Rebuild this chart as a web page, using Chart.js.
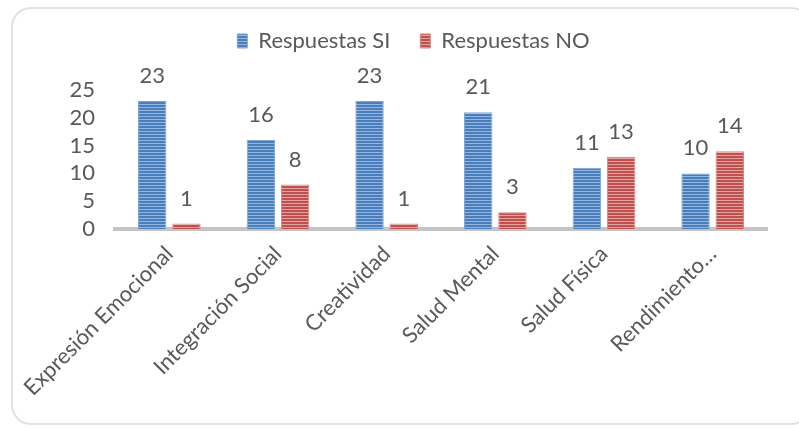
<!DOCTYPE html>
<html><head><meta charset="utf-8">
<script src="https://cdn.jsdelivr.net/npm/chart.js@4/dist/chart.umd.min.js"></script>
<style>
html,body{margin:0;padding:0;background:#fff;overflow:hidden}
#wrap{position:relative;width:799px;height:430px}
#frame{position:absolute;left:11px;top:7px;width:800px;height:418px;border:2px solid #e2e2e2;border-radius:20px;box-sizing:border-box}
canvas{position:absolute;left:0;top:0}
</style></head><body>
<div id="wrap"><div id="frame"></div><canvas id="c" width="799" height="430"></canvas></div>
<script>
const categories = ['Expresión Emocional','Integración Social','Creatividad','Salud Mental','Salud Física','Rendimiento…'];
const seriesNames = ['Respuestas SI','Respuestas NO'];
const respuestasSi = [23,16,23,21,11,10];
const respuestasNo = [1,8,1,3,13,14];
const yTicks = [0,5,10,15,20,25];

const FONT = 'Lato';
const TEXT = '#595959';

function stripes(dark, light){
  const c = document.createElement('canvas');
  c.width = 4; c.height = 3;
  const x = c.getContext('2d');
  x.fillStyle = dark; x.fillRect(0,0,4,3);
  x.fillStyle = light; x.fillRect(0,2,4,1);
  return document.getElementById('c').getContext('2d').createPattern(c,'repeat');
}
const bluePat = stripes('#4a7ebb','#93b6e2');
const redPat = stripes('#c0504d','#e3a3a1');

const legendHeight = {
  id:'legendHeight',
  beforeInit(chart){
    const lg = chart.legend;
    if (!lg) return;
    const f = lg.fit;
    lg.fit = function(){ f.call(this); this.height = 90; };
  }
};

const valueLabels = {
  id:'valueLabels',
  afterDatasetsDraw(chart){
    const ctx = chart.ctx;
    ctx.save();
    ctx.font = '22px ' + FONT;
    ctx.fillStyle = TEXT;
    ctx.textAlign = 'center';
    ctx.textBaseline = 'bottom';
    chart.data.datasets.forEach((ds,i)=>{
      chart.getDatasetMeta(i).data.forEach((bar,j)=>{
        ctx.fillText(String(ds.data[j]), bar.x, bar.y - 14);
      });
    });
    ctx.restore();
  }
};

new Chart(document.getElementById('c'), {
  type:'bar',
  data:{
    labels:categories,
    datasets:[
      {label:seriesNames[0], data:respuestasSi, backgroundColor:bluePat, borderColor:'#7fa5d6', borderWidth:1, borderSkipped:'bottom'},
      {label:seriesNames[1], data:respuestasNo, backgroundColor:redPat, borderColor:'#d88583', borderWidth:1, borderSkipped:'bottom'}
    ]
  },
  options:{
    responsive:false,
    animation:false,
    layout:{padding:{left:60,right:32,top:0,bottom:0}},
    datasets:{bar:{categoryPercentage:0.63, barPercentage:0.83}},
    plugins:{
      legend:{
        position:'top',
        labels:{font:{family:FONT,size:22}, color:TEXT, boxWidth:10, boxHeight:14, padding:30}
      },
      tooltip:{enabled:false}
    },
    scales:{
      x:{
        grid:{display:false, drawTicks:false},
        border:{color:'#c4c4c4', width:4},
        ticks:{font:{family:FONT,size:22}, color:TEXT, minRotation:45, maxRotation:45, padding:12, autoSkip:false},
        afterFit(s){ s.height = 201; }
      },
      y:{
        min:0, max:25,
        grid:{display:false, drawTicks:false},
        border:{display:false},
        afterBuildTicks(s){ s.ticks = yTicks.map(v=>({value:v})); },
        ticks:{font:{family:FONT,size:22}, color:TEXT, padding:20, autoSkip:false},
        afterFit(s){ s.width = 55; }
      }
    }
  },
  plugins:[legendHeight, valueLabels]
});
</script>
</body></html>
